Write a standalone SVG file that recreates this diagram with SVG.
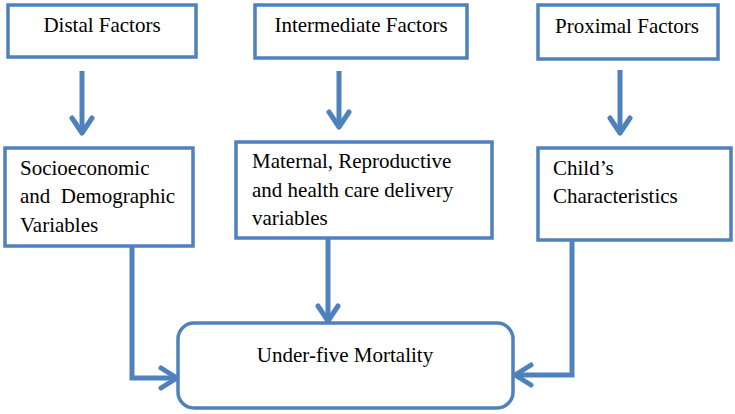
<svg xmlns="http://www.w3.org/2000/svg" width="735" height="414" viewBox="0 0 735 414">
<style>
.box{fill:#fff;stroke:#4F81BD;stroke-width:3.5}
.t{font-family:'Liberation Serif','Times New Roman','DejaVu Serif',serif;font-size:21px;fill:#000}
.c{fill:none;stroke:#4F81BD;stroke-width:5;stroke-linejoin:miter}
.h{fill:none;stroke:#4F81BD;stroke-width:5;stroke-linecap:round;stroke-linejoin:round}
</style>
<rect width="735" height="414" fill="#fff"/>
<g id="connectors">
<line class="c" x1="82" y1="71" x2="82" y2="132"/>
<path class="h" d="M72,118 L82,133 L92,118"/>
<line class="c" x1="339" y1="71" x2="339" y2="126"/>
<path class="h" d="M329,112 L339,127 L349,112"/>
<line class="c" x1="620" y1="70" x2="620" y2="132"/>
<path class="h" d="M610,118 L620,133 L630,118"/>
<path class="c" d="M132,246 L132,378 L175,378"/>
<path class="h" d="M161,368 L177,378 L161,388"/>
<line class="c" x1="328" y1="238" x2="328" y2="320"/>
<path class="h" d="M318,306 L328,321 L338,306"/>
<path class="c" d="M572,240 L572,375 L517,375"/>
<path class="h" d="M531,365 L515,375 L531,385"/>
</g>
<g id="distal">
<rect class="box" x="8" y="5" width="188" height="52"/>
<text class="t" font-family="Liberation Serif, serif" x="102" y="32" text-anchor="middle">Distal Factors</text>
</g>
<g id="intermediate">
<rect class="box" x="255" y="5" width="212" height="53"/>
<text class="t" x="361" y="32" text-anchor="middle">Intermediate Factors</text>
</g>
<g id="proximal">
<rect class="box" x="538" y="5" width="180" height="54"/>
<text class="t" x="627" y="33" text-anchor="middle">Proximal Factors</text>
</g>
<g id="socio">
<rect class="box" x="5" y="148" width="188" height="98"/>
<text class="t" x="20" y="175">Socioeconomic</text>
<text class="t" x="20" y="203" xml:space="preserve">and  Demographic</text>
<text class="t" x="20" y="232">Variables</text>
</g>
<g id="maternal">
<rect class="box" x="236" y="142" width="256" height="96"/>
<text class="t" x="252" y="168">Maternal, Reproductive</text>
<text class="t" x="252" y="197">and health care delivery</text>
<text class="t" x="252" y="225">variables</text>
</g>
<g id="child">
<rect class="box" x="538" y="148" width="193" height="92"/>
<text class="t" x="553" y="175">Child’s</text>
<text class="t" x="553" y="203">Characteristics</text>
</g>
<g id="mortality">
<rect class="box" x="178" y="323" width="335" height="85" rx="16"/>
<text class="t" x="345" y="362" text-anchor="middle">Under-five Mortality</text>
</g>
</svg>
